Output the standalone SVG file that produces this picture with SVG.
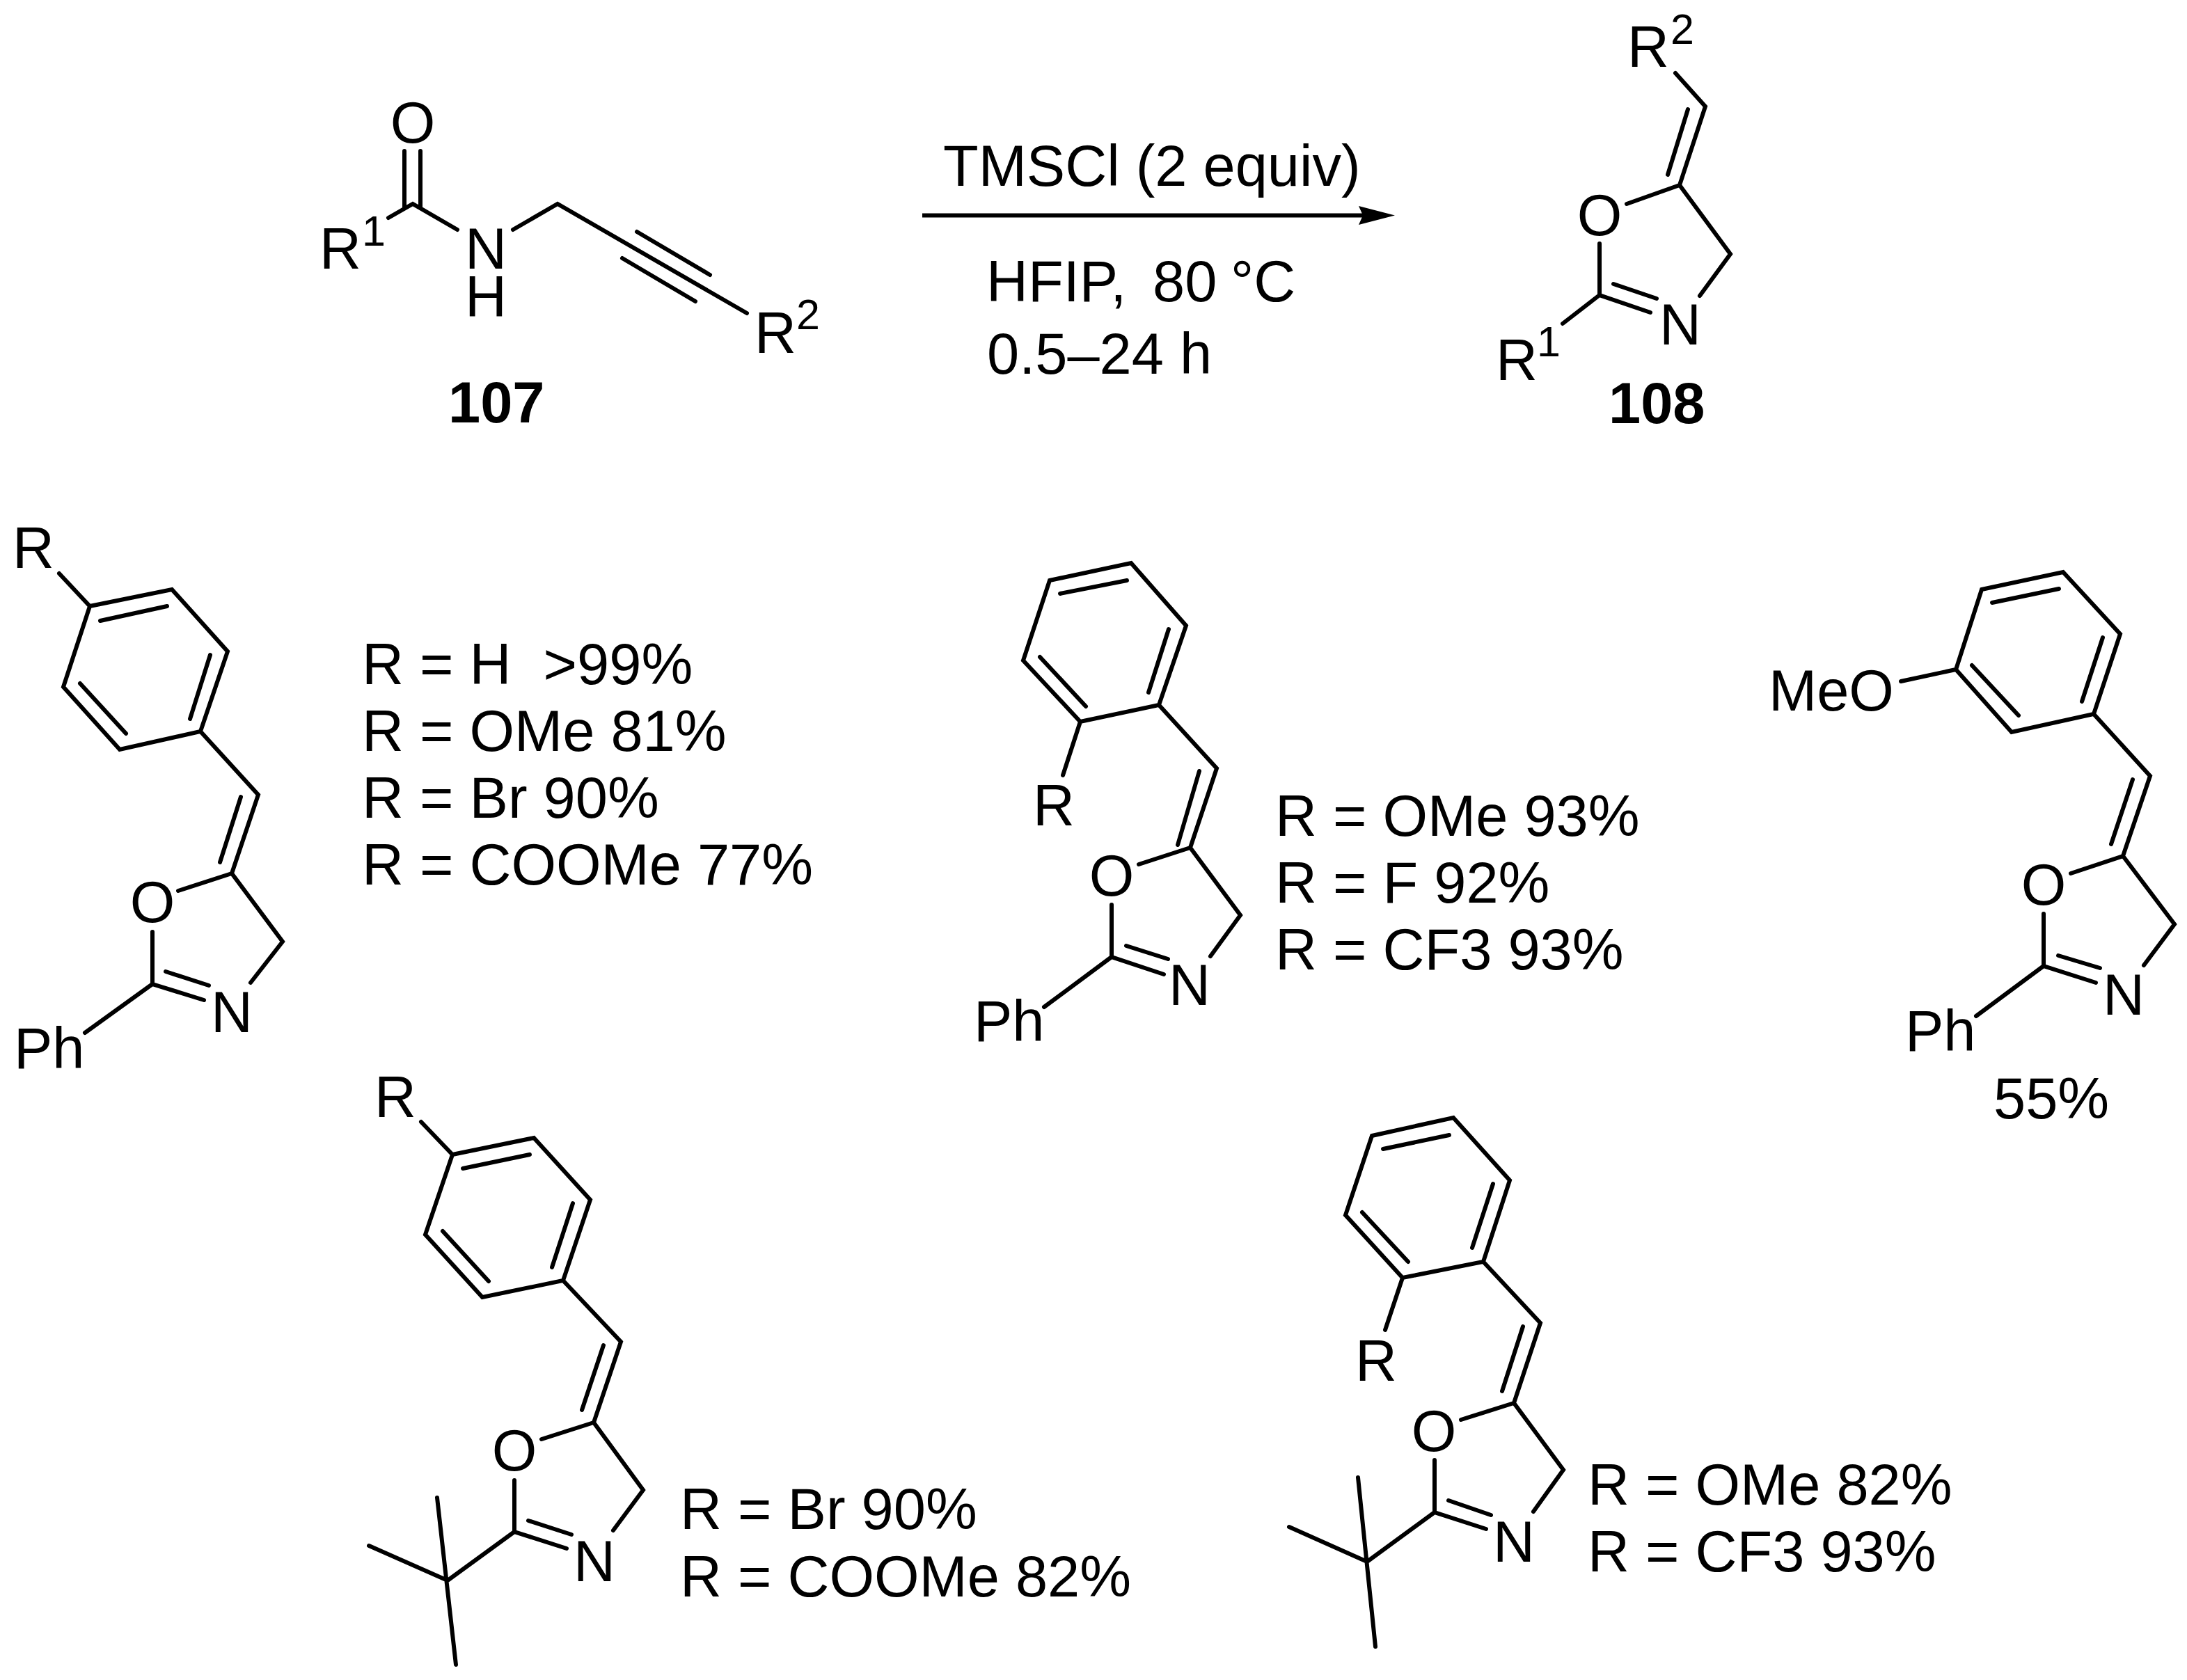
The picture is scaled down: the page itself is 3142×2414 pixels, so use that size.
<svg xmlns="http://www.w3.org/2000/svg" width="3142" height="2414" viewBox="0 0 3142 2414">
<style>
text{font-family:"Liberation Sans",Arial,sans-serif;font-size:83px;fill:#000;white-space:pre}
.b{font-weight:bold}
.s{font-size:61px}
.m{text-anchor:middle}
path{fill:none;stroke:#000;stroke-width:6;stroke-linecap:round;stroke-linejoin:miter}
</style>
<defs>
<marker id="head" markerUnits="userSpaceOnUse" markerWidth="56" markerHeight="30" refX="6" refY="15" orient="auto" viewBox="0 0 56 30"><polygon points="0,1.5 52,15 0,28.5 6,15" fill="#000"/></marker>
</defs>
<rect width="3142" height="2414" fill="#fff"/>
<g id="connectors">
<path d="M1325 309.5H1958" style="stroke-width:6;stroke-linecap:butt" marker-end="url(#head)"/>
</g>
<g id="compound-107">
<path d="M581 217V298M604 217V298M558 313L593 293L657 330M737 330L801 293L1073 450M915 333L1020 395M894 371L999 433"/>
<text x="593" y="205" class="m">O</text>
<text x="459" y="386">R</text><text x="520" y="353" class="s">1</text>
<text><tspan x="668" y="386">N</tspan><tspan x="668" y="455">H</tspan></text>
<text x="1084" y="507">R</text><text x="1144" y="473" class="s">2</text>
<text x="644" y="607" class="b">107</text>
</g>
<g id="conditions">
<text x="1355" y="267">TMSCl (2 equiv)</text>
<text y="433"><tspan x="1417">HFIP,</tspan><tspan x="1656">80</tspan><tspan x="1768">°C</tspan></text>
<text x="1418" y="537">0.5–24 h</text>
</g>
<g id="compound-108">
<path d="M2407 105L2450 153L2413 266L2486 365L2442 425M2425 157L2396 251M2413 266L2337 293M2298 350V424L2371 449M2318 408L2380 429M2298 424L2245 465"/>
<text x="2338" y="96">R</text><text x="2400" y="63" class="s">2</text>
<text x="2298" y="338" class="m">O</text>
<text x="2384" y="495">N</text>
<text x="2149" y="546">R</text><text x="2208" y="512" class="s">1</text>
<text x="2311" y="608" class="b">108</text>
</g>
<g id="compound-a">
<path d="M129 871L247 847L327 936L288 1051L172 1077L91 987ZM85 824L129 871M144 892L240 871M302 941L273 1033M115 982L181 1054M288 1051L371 1142L333 1255L406 1353L360 1412M346 1145L316 1239M333 1255L256 1280M219 1339V1414L293 1437M238 1396L300 1416M219 1414L122 1484"/>
<text x="18" y="816">R</text>
<text x="219" y="1325" class="m">O</text>
<text x="303" y="1483">N</text>
<text x="20" y="1535">Ph</text>
<text x="520" y="983">R = H  &gt;99%</text>
<text x="520" y="1079">R = OMe 81%</text>
<text x="520" y="1175">R = Br 90%</text>
<text x="520" y="1271">R = COOMe 77%</text>
</g>
<g id="compound-b">
<path d="M1508 834L1625 809L1704 899L1665 1013L1552 1037L1470 949ZM1523 853L1619 834M1679 904L1650 995M1494 944L1560 1015M1552 1037L1527 1114M1665 1013L1748 1104L1710 1218L1782 1315L1739 1374M1723 1108L1692 1214M1710 1218L1636 1242M1597 1300V1375L1672 1400M1618 1359L1678 1378M1597 1375L1500 1447"/>
<text x="1484" y="1186">R</text>
<text x="1597" y="1287" class="m">O</text>
<text x="1679" y="1444">N</text>
<text x="1399" y="1496">Ph</text>
<text x="1832" y="1201">R = OMe 93%</text>
<text x="1832" y="1297">R = F 92%</text>
<text x="1832" y="1393">R = CF3 93%</text>
</g>
<g id="compound-c">
<path d="M2847 847L2964 822L3046 911L3008 1026L2890 1052L2810 962ZM2862 866L2958 846M3021 916L2991 1008M2833 956L2900 1028M2810 962L2731 979M3008 1026L3089 1115L3050 1230L3124 1328L3080 1387M3064 1120L3033 1213M3050 1230L2975 1255M2936 1313V1388L3011 1412M2957 1373L3017 1391M2936 1388L2839 1460"/>
<text x="2541" y="1021">MeO</text>
<text x="2936" y="1300" class="m">O</text>
<text x="3021" y="1458">N</text>
<text x="2737" y="1510">Ph</text>
<text x="2864" y="1607">55%</text>
</g>
<g id="compound-d">
<path d="M650 1659L767 1635L848 1724L809 1840L693 1864L611 1774ZM605 1612L650 1659M665 1679L761 1659M823 1729L793 1821M636 1769L702 1841M809 1840L892 1928L853 2044L924 2141L881 2199M867 1933L836 2026M853 2044L778 2068M739 2127V2201L814 2225M759 2185L821 2205M739 2201L643 2271M530 2221L643 2271M628 2152L655 2392"/>
<text x="538" y="1605">R</text>
<text x="739" y="2113" class="m">O</text>
<text x="824" y="2272">N</text>
<text x="977" y="2197">R = Br 90%</text>
<text x="977" y="2294">R = COOMe 82%</text>
</g>
<g id="compound-e">
<path d="M1971 1632L2088 1606L2169 1696L2131 1813L2015 1836L1933 1746ZM1987 1651L2082 1631M2145 1701L2115 1793M1957 1742L2023 1813M2015 1836L1990 1911M2131 1813L2213 1901L2175 2016L2246 2112L2203 2172M2188 1906L2158 1999M2175 2016L2099 2040M2061 2098V2173L2135 2197M2081 2156L2142 2177M2061 2173L1964 2244M1852 2194L1964 2244M1951 2123L1976 2366"/>
<text x="1947" y="1984">R</text>
<text x="2060" y="2085" class="m">O</text>
<text x="2145" y="2244">N</text>
<text x="2281" y="2162">R = OMe 82%</text>
<text x="2281" y="2258">R = CF3 93%</text>
</g>
</svg>
